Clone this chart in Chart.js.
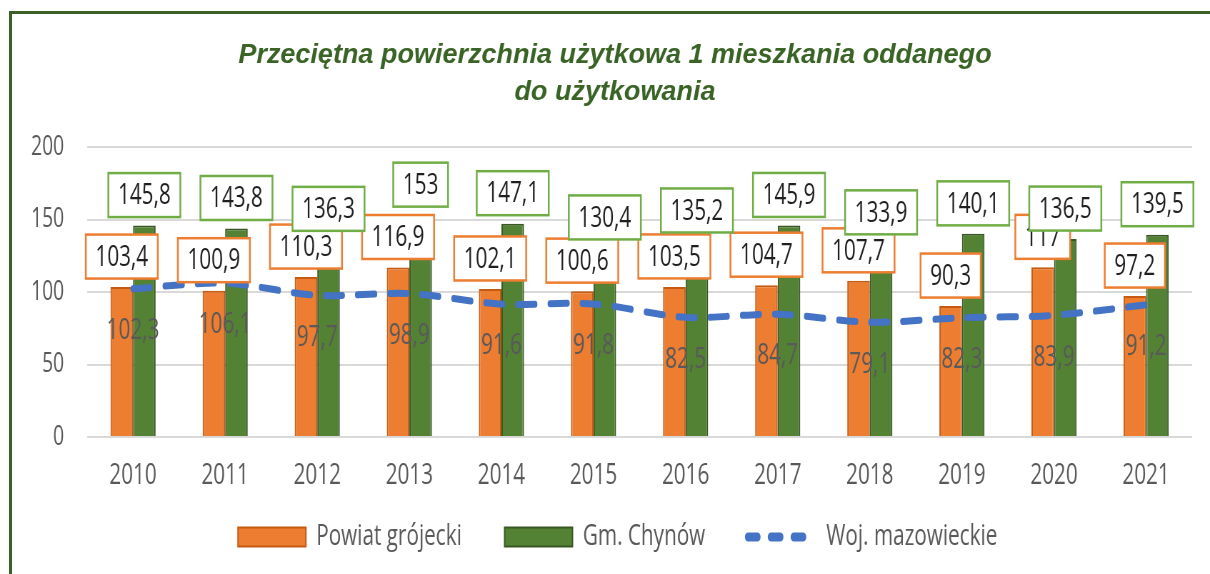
<!DOCTYPE html>
<html lang="pl">
<head>
<meta charset="utf-8">
<title>Przeciętna powierzchnia użytkowa 1 mieszkania oddanego do użytkowania</title>
<script src="https://cdn.jsdelivr.net/npm/chart.js@4.4.1/dist/chart.umd.min.js"></script>
<style>
  html, body { margin: 0; padding: 0; background: #fff; overflow: hidden; }
  #wrap { position: relative; width: 1210px; height: 574px; overflow: hidden; }
  #frame {
    position: absolute; left: 9px; top: 11px; width: 1300px; height: 700px;
    border-left: 3px solid #3d5f2a; border-top: 3px solid #3d5f2a;
  }
  canvas { position: absolute; left: 0; top: 0; }
</style>
</head>
<body>
<div id="wrap">
  <div id="frame"></div>
  <canvas id="chart" width="1694" height="574" style="width:1210px;height:574px"></canvas>
</div>
<script>
// Dane
const lata = ["2010", "2011", "2012", "2013", "2014", "2015", "2016", "2017", "2018", "2019", "2020", "2021"];
const powiatGrojecki = [103.4, 100.9, 110.3, 116.9, 102.1, 100.6, 103.5, 104.7, 107.7, 90.3, 117, 97.2];
const gmChynow = [145.8, 143.8, 136.3, 153, 147.1, 130.4, 135.2, 145.9, 133.9, 140.1, 136.5, 139.5];
const wojMazowieckie = [102.3, 106.1, 97.7, 98.9, 91.6, 91.8, 82.5, 84.7, 79.1, 82.3, 83.9, 91.2];
const yTicks = [0, 50, 100, 150, 200];
const tytul = ["Przeciętna powierzchnia użytkowa 1 mieszkania oddanego", "do użytkowania"];

// oryginał jest rozciągnięty w pionie, więc rysujemy szerzej i ściskamy canvas w poziomie
const SQUISH = 1.4;
const px = (x) => x * SQUISH;
const fmt = (v) => String(v).replace(".", ",");

Chart.defaults.font.family = '"Open Sans", sans-serif';

// Tytuł (bez ściskania liter)
const titlePlugin = {
  id: "tytul",
  afterDraw(chart) {
    const ctx = chart.ctx;
    ctx.save();
    ctx.font = 'italic bold 27px "Liberation Sans"';
    ctx.fillStyle = "#3a6326";
    ctx.textAlign = "center";
    ctx.textBaseline = "middle";
    ctx.translate(px(615), 0);
    ctx.scale(SQUISH, 1);
    tytul.forEach((line, i) => ctx.fillText(line, 0, 56 + i * 37));
    ctx.restore();
  },
};

// Etykiety wartości
const labelPlugin = {
  id: "etykiety",
  afterDatasetsDraw(chart) {
    const ctx = chart.ctx;
    ctx.save();
    ctx.font = '29px "Open Sans"';
    ctx.textAlign = "center";
    ctx.textBaseline = "middle";

    chart.getDatasetMeta(2).data.forEach((pt, i) => {
      ctx.fillStyle = "#595959";
      ctx.fillText(fmt(wojMazowieckie[i]), pt.x, pt.y + 42);
    });

    const boxColors = ["#ED7D31", "#70AD47"];
    [0, 1].forEach((di) => {
      const values = chart.data.datasets[di].data;
      chart.getDatasetMeta(di).data.forEach((bar, i) => {
        const text = fmt(values[i]);
        const w = ctx.measureText(text).width + 27;
        const h = 44;
        const cy = bar.y - 30.5;
        ctx.fillStyle = "#fff";
        ctx.fillRect(bar.x - w / 2, cy - h / 2, w, h);
        ctx.lineWidth = 2.5;
        ctx.strokeStyle = boxColors[di];
        ctx.strokeRect(bar.x - w / 2, cy - h / 2, w, h);
        ctx.fillStyle = "#1f1f1f";
        ctx.fillText(text, bar.x, cy + 1);
      });
    });
    ctx.restore();
  },
};

// Przesunięcie legendy na miejsce z oryginału
const legendShift = {
  id: "legendShift",
  afterLayout(chart) {
    const lg = chart.legend;
    const pad = lg.options.labels.padding;
    const dy = 537 - (lg.top + pad + 29 / 2);
    const dx = px(238) - (lg.left + pad);
    lg.top += dy;
    lg.bottom = chart.height;
    lg.height = lg.bottom - lg.top;
    lg.left += dx;
    lg.right += dx;
  },
};

var ctx = document.getElementById("chart").getContext("2d");
var chart = new Chart(ctx, {
  type: "bar",
  data: {
    labels: lata,
    datasets: [
      {
        label: "Powiat grójecki",
        data: powiatGrojecki,
        backgroundColor: "#ED7D31",
        borderColor: "#C55A11",
        borderWidth: 2,
        order: 1,
      },
      {
        label: "Gm. Chynów",
        data: gmChynow,
        backgroundColor: "#548235",
        borderColor: "#385723",
        borderWidth: 2,
        order: 1,
      },
      {
        type: "line",
        label: "Woj. mazowieckie",
        data: wojMazowieckie,
        borderColor: "#4472C4",
        backgroundColor: "#4472C4",
        borderWidth: 7,
        borderDash: [24, 21],
        borderCapStyle: "round",
        tension: 0.3,
        pointRadius: 0,
        fill: false,
        order: 0,
      },
    ],
  },
  options: {
    responsive: false,
    animation: false,
    devicePixelRatio: 1,
    datasets: {
      bar: { categoryPercentage: 0.49, barPercentage: 1 },
    },
    layout: {
      padding: { top: 147, left: 0, right: 25, bottom: 0 },
    },
    scales: {
      x: {
        grid: { display: false, drawTicks: false },
        border: { display: false },
        ticks: { color: "#595959", font: { size: 29 }, padding: 21 },
        afterFit: (s) => { s.height = 56; },
      },
      y: {
        min: 0,
        max: 200,
        grid: { color: "#D9D9D9", lineWidth: 2, drawTicks: false },
        border: { display: false },
        ticks: { color: "#595959", font: { size: 27 }, padding: 32 },
        afterBuildTicks: (s) => { s.ticks = yTicks.map((v) => ({ value: v })); },
        afterFit: (s) => { s.width = px(87); },
      },
    },
    plugins: {
      title: { display: false },
      tooltip: { enabled: false },
      legend: {
        position: "bottom",
        align: "start",
        maxHeight: 81,
        labels: {
          usePointStyle: true,
          pointStyleWidth: 95,
          boxHeight: 19,
          padding: 60,
          color: "#595959",
          font: { size: 29 },
          sort: (a, b) => a.datasetIndex - b.datasetIndex,
          generateLabels(chart) {
            const items = Chart.defaults.plugins.legend.labels.generateLabels(chart);
            items.forEach((it) => {
              if (it.datasetIndex === 2) {
                it.pointStyle = "line";
                it.lineDash = [13, 19];
                it.lineWidth = 9;
                it.lineCap = "round";
              } else {
                it.pointStyle = "rect";
              }
            });
            return items;
          },
        },
      },
    },
  },
  plugins: [titlePlugin, labelPlugin, legendShift],
});
</script>
</body>
</html>
